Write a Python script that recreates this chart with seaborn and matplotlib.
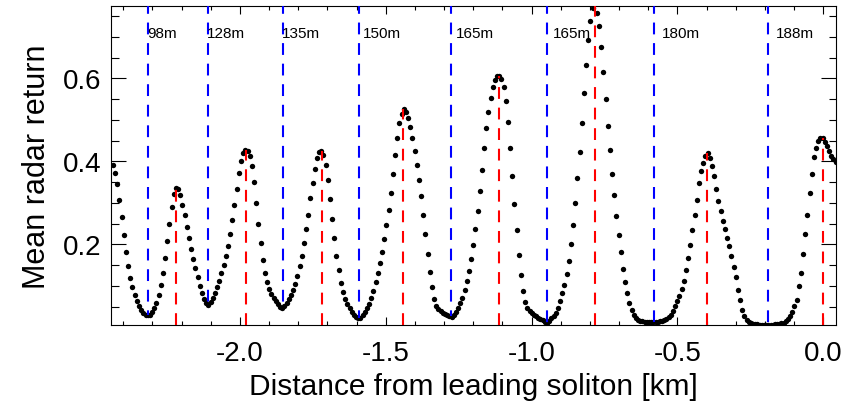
import numpy as np
import pandas as pd
import matplotlib
matplotlib.use("Agg")
import matplotlib.pyplot as plt
import seaborn as sns
from matplotlib.ticker import MultipleLocator, FixedLocator, FixedFormatter

# ---------------- data ----------------
# sample grid of the radar profile (km): first sample and sample spacing
x_start_km = -2.4353
x_step_km = 0.00744

radar_return = [
    0.391, 0.371, 0.346, 0.308, 0.266, 0.222, 0.181, 0.147, 0.118, 0.097,
    0.079, 0.064, 0.052, 0.043, 0.035, 0.031, 0.029, 0.031, 0.037, 0.047,
    0.060, 0.078, 0.102, 0.132, 0.168, 0.208, 0.250, 0.290, 0.322, 0.337,
    0.334, 0.318, 0.296, 0.270, 0.243, 0.215, 0.190, 0.166, 0.143, 0.121,
    0.100, 0.083, 0.069, 0.059, 0.054, 0.062, 0.071, 0.083, 0.097, 0.113,
    0.130, 0.150, 0.171, 0.197, 0.225, 0.258, 0.295, 0.334, 0.371, 0.402,
    0.421, 0.428, 0.424, 0.412, 0.389, 0.350, 0.300, 0.250, 0.203, 0.163,
    0.132, 0.109, 0.093, 0.081, 0.071, 0.063, 0.056, 0.050, 0.047, 0.052,
    0.059, 0.068, 0.079, 0.091, 0.105, 0.123, 0.147, 0.173, 0.204, 0.236,
    0.272, 0.311, 0.347, 0.381, 0.409, 0.423, 0.426, 0.415, 0.392, 0.356,
    0.310, 0.262, 0.215, 0.173, 0.138, 0.108, 0.085, 0.069, 0.057, 0.046,
    0.037, 0.030, 0.025, 0.022, 0.023, 0.030, 0.037, 0.046, 0.057, 0.070,
    0.087, 0.109, 0.131, 0.155, 0.182, 0.212, 0.246, 0.283, 0.324, 0.369,
    0.415, 0.457, 0.492, 0.515, 0.527, 0.520, 0.505, 0.482, 0.456, 0.425,
    0.391, 0.354, 0.316, 0.270, 0.224, 0.178, 0.133, 0.097, 0.068, 0.052,
    0.044, 0.039, 0.035, 0.032, 0.030, 0.028, 0.026, 0.030, 0.038, 0.047,
    0.058, 0.072, 0.090, 0.112, 0.137, 0.166, 0.198, 0.236, 0.280, 0.328,
    0.380, 0.432, 0.480, 0.520, 0.553, 0.579, 0.596, 0.605, 0.606, 0.598,
    0.580, 0.545, 0.495, 0.432, 0.365, 0.298, 0.234, 0.175, 0.126, 0.088,
    0.062, 0.047, 0.040, 0.035, 0.031, 0.027, 0.023, 0.020, 0.017, 0.014,
    0.012, 0.016, 0.022, 0.028, 0.035, 0.047, 0.063, 0.082, 0.102, 0.128,
    0.161, 0.200, 0.247, 0.299, 0.359, 0.423, 0.492, 0.564, 0.633, 0.693,
    0.739, 0.768, 0.782, 0.758, 0.725, 0.675, 0.615, 0.550, 0.486, 0.427,
    0.370, 0.318, 0.268, 0.222, 0.181, 0.142, 0.110, 0.082, 0.060, 0.042,
    0.030, 0.022, 0.018, 0.016, 0.015, 0.014, 0.013, 0.013, 0.013, 0.013,
    0.013, 0.014, 0.015, 0.016, 0.018, 0.021, 0.025, 0.031, 0.040, 0.051,
    0.063, 0.077, 0.093, 0.111, 0.138, 0.167, 0.198, 0.235, 0.270, 0.308,
    0.347, 0.376, 0.397, 0.414, 0.419, 0.408, 0.389, 0.364, 0.334, 0.305,
    0.280, 0.256, 0.236, 0.215, 0.196, 0.172, 0.146, 0.121, 0.091, 0.066,
    0.043, 0.027, 0.019, 0.013, 0.010, 0.009, 0.008, 0.008, 0.007, 0.007,
    0.007, 0.007, 0.007, 0.007, 0.007, 0.008, 0.008, 0.009, 0.010, 0.012,
    0.016, 0.020, 0.027, 0.038, 0.052, 0.067, 0.100, 0.131, 0.176, 0.226,
    0.272, 0.324, 0.370, 0.410, 0.432, 0.450, 0.457, 0.456, 0.447, 0.436,
    0.425, 0.413, 0.405, 0.398,
]

# troughs (blue, from top down) and peaks (red, from bottom up)
trough_km = [-2.3164, -2.1086, -1.8524, -1.5909, -1.2765, -0.9463, -0.5794, -0.1896]
trough_val = [0.030, 0.054, 0.047, 0.022, 0.027, 0.012, 0.013, 0.008]
peak_km = [-2.2193, -1.9803, -1.7177, -1.4410, -1.1108, -0.7817, -0.3998, -0.0010]
peak_val = [0.337, 0.428, 0.426, 0.527, 0.606, 0.790, 0.419, 0.457]

depth_labels = ["98m", "128m", "135m", "150m", "165m", "165m", "180m", "188m"]
label_km = [-2.3164, -2.1126, -1.8554, -1.5770, -1.2590, -0.9278, -0.5520, -0.1622]
label_y = 0.708

x_ticks = [-2.0, -1.5, -1.0, -0.5, 0.0]
x_tick_labels = ["-2.0", "-1.5", "-1.0", "-0.5", "0.0"]
y_ticks = [0.2, 0.4, 0.6]
y_tick_labels = ["0.2", "0.4", "0.6"]

# ---------------- plotting ----------------
sns.set_style("white")
plt.rcParams["font.family"] = ["Liberation Sans", "DejaVu Sans"]
plt.rcParams["axes.unicode_minus"] = False
plt.rcParams["lines.scale_dashes"] = False
plt.rcParams["text.color"] = "black"
plt.rcParams["axes.labelcolor"] = "black"
plt.rcParams["xtick.color"] = "black"
plt.rcParams["ytick.color"] = "black"

fig = plt.figure(figsize=(8.46, 4.06), dpi=100)
ax = fig.add_axes([111 / 846, 80 / 406, 725 / 846, 319 / 406])

xlo, xhi = -2.442, 0.0435
ylo, yhi = 0.006, 0.774

df = pd.DataFrame({
    "distance": x_start_km + x_step_km * np.arange(len(radar_return)),
    "radar": radar_return,
})
sns.scatterplot(data=df, x="distance", y="radar", ax=ax, color="black",
                s=15, linewidth=0, zorder=3, legend=False)

dash = (0, (8.5, 6.3))
ax.vlines(trough_km, [yhi + 0.01] * len(trough_km), trough_val,
          colors="#0000ff", linewidth=1.5, linestyles=[dash], zorder=4)
ax.vlines(peak_km, [ylo] * len(peak_km), peak_val,
          colors="#ff0000", linewidth=1.5, linestyles=[dash], zorder=4)

for xk, lab in zip(label_km, depth_labels):
    ax.text(xk, label_y, lab, fontsize=11, va="center", ha="left",
            color="black", zorder=5)

ax.set_xlim(xlo, xhi)
ax.set_ylim(ylo, yhi)

ax.xaxis.set_major_locator(FixedLocator(x_ticks))
ax.xaxis.set_major_formatter(FixedFormatter(x_tick_labels))
ax.xaxis.set_minor_locator(MultipleLocator(0.1))
ax.yaxis.set_major_locator(FixedLocator(y_ticks))
ax.yaxis.set_major_formatter(FixedFormatter(y_tick_labels))
ax.yaxis.set_minor_locator(MultipleLocator(0.05))

ax.tick_params(axis="y", which="major", direction="in", length=10.8, width=0.8,
               left=True, right=True, labelsize=20, pad=7, colors="black")
ax.tick_params(axis="y", which="minor", direction="in", length=5.4, width=0.8,
               left=True, right=True, colors="black")
ax.tick_params(axis="x", which="major", direction="in", length=5.5, width=0.8,
               bottom=True, top=True, labelsize=20, pad=11, colors="black")
ax.tick_params(axis="x", which="minor", direction="in", length=3.0, width=0.8,
               bottom=True, top=True, colors="black")

for sp in ax.spines.values():
    sp.set_visible(True)
    sp.set_color("black")
    sp.set_linewidth(0.8)

ax.set_xlabel("Distance from leading soliton [km]", fontsize=21.5, labelpad=4,
              color="black")
ax.set_ylabel("Mean radar return", fontsize=22, labelpad=8, color="black")

fig.savefig("out.png", dpi=100)
